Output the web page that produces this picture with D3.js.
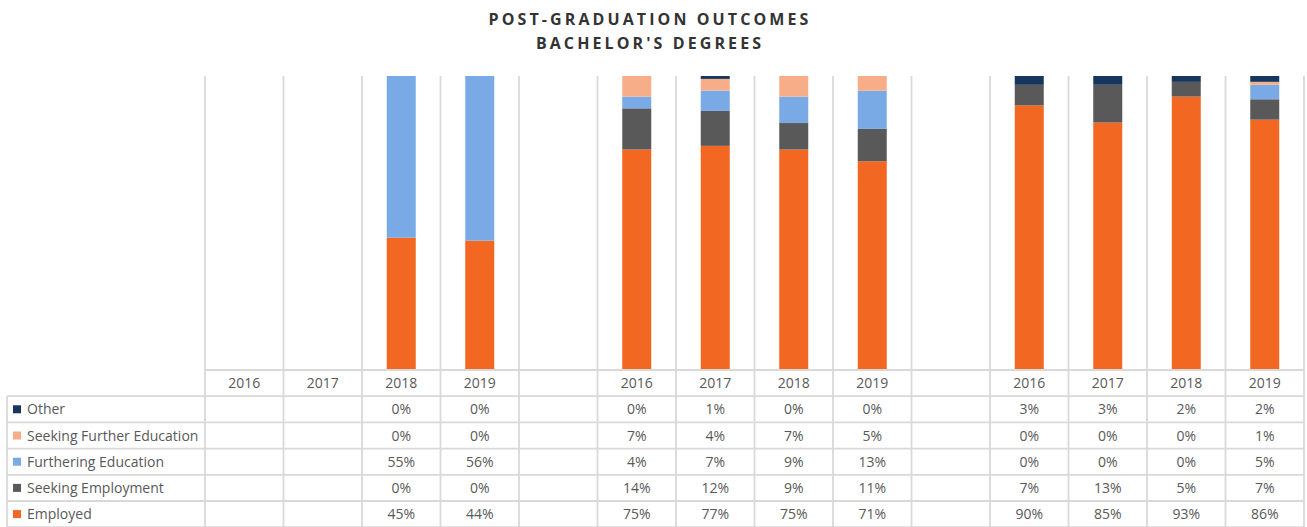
<!DOCTYPE html>
<html>
<head>
<meta charset="utf-8">
<script src="https://cdn.jsdelivr.net/npm/d3@7"></script>
<style>
  body { margin: 0; background: #fff; }
  svg { display: block; font-family: "Open Sans", sans-serif; }
</style>
</head>
<body>
<script>
// categories: three groups of years, with an empty spacer column between groups
var categories = ["2016", "2017", "2018", "2019", "", "2016", "2017", "2018", "2019", "", "2016", "2017", "2018", "2019"];

// series, in percent (null = no data)
var employed      = [null, null, 45, 44, null, 75, 77, 75, 71, null, 90, 85, 93, 86];
var seekingEmp    = [null, null, 0, 0, null, 14, 12, 9, 11, null, 7, 13, 5, 7];
var furtheringEd  = [null, null, 55, 56, null, 4, 7, 9, 13, null, 0, 0, 0, 5];
var seekingFurther = [null, null, 0, 0, null, 7, 4, 7, 5, null, 0, 0, 0, 1];
var other         = [null, null, 0, 0, null, 0, 1, 0, 0, null, 3, 3, 2, 2];

var seriesNames = ["Employed", "Seeking Employment", "Furthering Education", "Seeking Further Education", "Other"];
var seriesValues = [employed, seekingEmp, furtheringEd, seekingFurther, other];
var seriesColors = ["#f26722", "#595959", "#7aaae6", "#f8ad89", "#17365d"];

var width = 1307, height = 527;

var svg = d3.select("body")
    .append("svg")
    .attr("width", width)
    .attr("height", height);

// title
svg.append("text")
    .attr("x", 650).attr("y", 25)
    .attr("text-anchor", "middle")
    .style("font-size", "16px").style("font-weight", "700")
    .style("letter-spacing", "3.1px").style("fill", "#333")
    .text("POST-GRADUATION OUTCOMES");
svg.append("text")
    .attr("x", 650).attr("y", 49)
    .attr("text-anchor", "middle")
    .style("font-size", "16px").style("font-weight", "700")
    .style("letter-spacing", "3.1px").style("fill", "#333")
    .text("BACHELOR'S DEGREES");

var plotTop = 76, plotBottom = 370, tableLeft = 7, rowH = 26.2;

var x = d3.scaleBand()
    .domain(d3.range(categories.length))
    .range([205, 1304]);

var y = d3.scaleLinear()
    .domain([0, 1])
    .range([plotBottom, plotTop]);

// build rows for the stack
var rows = categories.map(function (c, i) {
    var r = {};
    seriesNames.forEach(function (s, k) { r[s] = seriesValues[k][i] || 0; });
    return r;
});

var stack = d3.stack()
    .keys(seriesNames)
    .offset(d3.stackOffsetExpand);
var stacked = stack(rows);

var gridColor = "#d9d9d9";
var bottomY = plotBottom + rowH * 6;

// vertical lines between categories (plot and table)
var bounds = d3.range(categories.length + 1).map(function (i) {
    return i < categories.length ? x(i) : x.range()[1];
});
svg.append("g")
    .selectAll("line")
    .data(bounds)
    .enter().append("line")
    .attr("x1", function (d) { return d; })
    .attr("x2", function (d) { return d; })
    .attr("y1", plotTop)
    .attr("y2", bottomY)
    .style("stroke", gridColor)
    .style("stroke-width", 1.8);

// bars
var barW = 29;
svg.append("g")
    .selectAll("g")
    .data(stacked)
    .enter().append("g")
    .style("fill", function (d, k) { return seriesColors[k]; })
    .selectAll("rect")
    .data(function (d) { return d.map(function (p, i) { return { p: p, i: i }; }); })
    .enter()
    .filter(function (d) { return d.p[1] - d.p[0] > 0; })
    .append("rect")
    .attr("x", function (d) { return x(d.i) + (x.bandwidth() - barW) / 2; })
    .attr("width", barW)
    .attr("y", function (d) { return y(d.p[1]); })
    .attr("height", function (d) { return y(d.p[0]) - y(d.p[1]); });

// table horizontal lines
var hLines = d3.range(7).map(function (k) { return plotBottom + k * rowH; });
svg.append("g")
    .selectAll("line")
    .data(hLines)
    .enter().append("line")
    .attr("x1", function (d, k) { return k === 0 ? 205 : tableLeft; })
    .attr("x2", x.range()[1])
    .attr("y1", function (d) { return d; })
    .attr("y2", function (d) { return d; })
    .style("stroke", gridColor)
    .style("stroke-width", 1.8);

svg.append("line")
    .attr("x1", tableLeft).attr("x2", tableLeft)
    .attr("y1", plotBottom + rowH).attr("y2", bottomY)
    .style("stroke", gridColor)
    .style("stroke-width", 1.8);

// header (year labels)
svg.append("g")
    .selectAll("text")
    .data(categories)
    .enter().append("text")
    .attr("x", function (d, i) { return x(i) + x.bandwidth() / 2; })
    .attr("y", plotBottom + rowH / 2 + 5)
    .attr("text-anchor", "middle")
    .style("font-size", "14px")
    .style("fill", "#595959")
    .text(function (d) { return d; });

// table rows: top row is the last series
var tableOrder = d3.range(seriesNames.length).reverse();
tableOrder.forEach(function (k, r) {
    var cy = plotBottom + rowH * (r + 1) + rowH / 2;
    var g = svg.append("g");
    g.append("rect")
        .attr("x", 13).attr("y", cy - 4)
        .attr("width", 8).attr("height", 8)
        .style("fill", seriesColors[k]);
    g.append("text")
        .attr("x", 27).attr("y", cy + 5)
        .style("font-size", "14px")
        .style("fill", "#595959")
        .text(seriesNames[k]);
    g.selectAll("text.val")
        .data(seriesValues[k])
        .enter().append("text")
        .attr("class", "val")
        .attr("x", function (d, i) { return x(i) + x.bandwidth() / 2; })
        .attr("y", cy + 5)
        .attr("text-anchor", "middle")
        .style("font-size", "14px")
        .style("fill", "#595959")
        .text(function (d) { return d == null ? "" : d + "%"; });
});
</script>
</body>
</html>
